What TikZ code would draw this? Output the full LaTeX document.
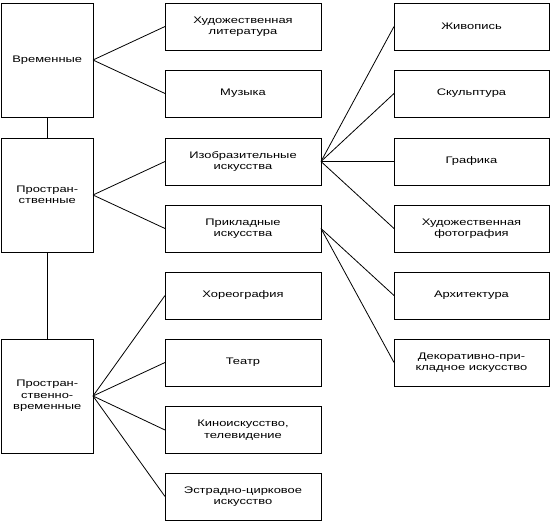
\documentclass[tikz,border=0pt]{standalone}
\usepackage{fontspec}
\setmainfont{Liberation Sans}[FakeStretch=1.36]
\begin{document}
\begin{tikzpicture}[x=1pt,y=-1pt,
  base/.style={draw=black, line width=0.8pt, inner sep=0pt, outer sep=0pt, align=center,
    font=\fontsize{9.5}{11.5}\selectfont},
  lbox/.style={base, minimum width=91.5pt, minimum height=114pt},
  mbox/.style={base, minimum width=156pt, minimum height=47pt},
  rbox/.style={base, minimum width=155pt, minimum height=47pt},
  link/.style={draw=black, line width=0.8pt}]
\useasboundingbox (0,0) rectangle (554,522);
% left column
\node[lbox] (L1) at (47.25,60) {Временные};
\node[lbox] (L2) at (47.25,195) {Простран-\\ственные};
\node[lbox] (L3) at (47.25,396) {Простран-\\ственно-\\временные};
% middle column
\node[mbox] (M1) at (243,26.5) {Художественная\\литература};
\node[mbox] (M2) at (243,93.5) {Музыка};
\node[mbox] (M3) at (243,161.5) {Изобразительные\\искусства};
\node[mbox] (M4) at (243,228.5) {Прикладные\\искусства};
\node[mbox] (M5) at (243,295.5) {Хореография};
\node[mbox] (M6) at (243,362.5) {Театр};
\node[mbox] (M7) at (243,430) {Киноискусство,\\телевидение};
\node[mbox] (M8) at (243,496.5) {Эстрадно-цирковое\\искусство};
% right column
\node[rbox] (R1) at (471.5,26.5) {Живопись};
\node[rbox] (R2) at (471.5,93.5) {Скульптура};
\node[rbox] (R3) at (471.5,161.5) {Графика};
\node[rbox] (R4) at (471.5,228.5) {Художественная\\фотография};
\node[rbox] (R5) at (471.5,295.5) {Архитектура};
\node[rbox] (R6) at (471.5,362.5) {Декоративно-при-\\кладное искусство};
% connectors
\draw[link] (L1.south) -- (L2.north);
\draw[link] (L2.south) -- (L3.north);
\foreach \m in {M1,M2} \draw[link] (L1.east) -- (\m.west);
\foreach \m in {M3,M4} \draw[link] (L2.east) -- (\m.west);
\foreach \m in {M5,M6,M7,M8} \draw[link] (L3.east) -- (\m.west);
\foreach \r in {R1,R2,R3,R4} \draw[link] (M3.east) -- (\r.west);
\foreach \r in {R5,R6} \draw[link] (M4.east) -- (\r.west);
\end{tikzpicture}
\end{document}
